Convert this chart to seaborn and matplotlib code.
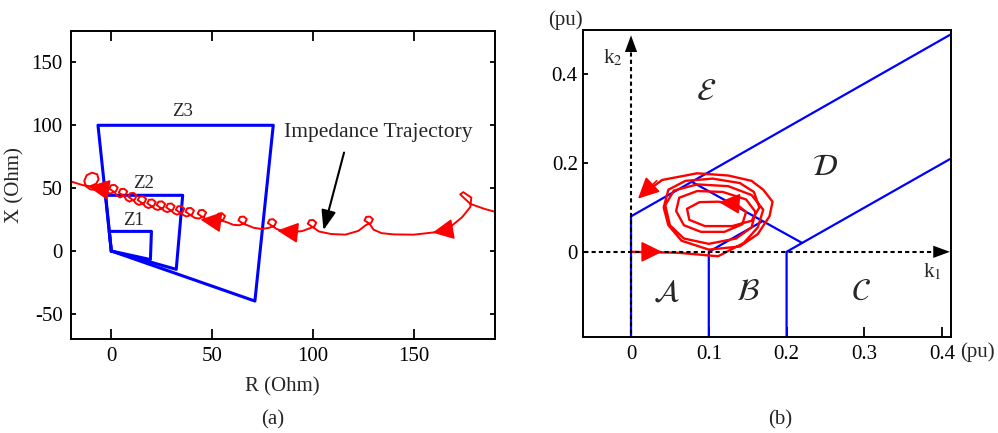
import numpy as np
import pandas as pd
import matplotlib
matplotlib.use("Agg")
import matplotlib.pyplot as plt
import seaborn as sns

# ---- panel (a): distance relay zones (R, X in Ohm) ----
z1_r = [0, 19.4, 19.9, -1.0, 0]
z1_x = [0, -6.8, 15.6, 15.6, 0]
z2_r = [0, 32.2, 35.4, -2.8, 0]
z2_x = [0, -14.6, 44.3, 44.3, 0]
z3_r = [0, 71.2, 80.3, -6.6, 0]
z3_x = [0, -39.8, 100, 100, 0]

# impedance trajectory (right to left)
traj_a = [
    (193, 30.0), (185, 33.5), (178, 37.5), (173, 45.0), (174.5, 46.8), (178.5, 42.5),
    (178, 35.0), (174, 27.0), (168, 19.0), (160, 14.8), (150, 13.0), (140, 13.2), (134, 14.2),
    (130, 17.0), (128.2, 21.4), (125.5, 24.4), (126.4, 27.1), (128.2, 27.4), (129.7, 25.3),
    (128.8, 22.3), (126.1, 20.5), (122.5, 16.0), (116, 13.0), (109, 13.5), (103, 15.5),
    (100.1, 18.7), (97.4, 21.7), (98.3, 24.4), (100.1, 24.7), (101.6, 22.6), (100.7, 19.6),
    (98.0, 17.8), (94.5, 15.8), (90, 15.2), (85, 15.8), (82, 17.5),
    (80.3, 19.3), (77.6, 22.3), (78.5, 25.0), (80.3, 25.3), (81.8, 23.2), (80.9, 20.2),
    (78.2, 18.4), (74.5, 17.5), (70.5, 18.5), (67.5, 20.5),
    (65.7, 21.4), (63.0, 24.4), (63.9, 27.1), (65.7, 27.4), (67.2, 25.3), (66.3, 22.3),
    (63.6, 20.5), (60.5, 20.8), (57.5, 22.8),
    (54.9, 24.0), (52.2, 27.0), (53.1, 29.7), (54.9, 30.0), (56.4, 27.9), (55.5, 24.9),
    (52.8, 23.1), (49.5, 23.5), (47.0, 25.0),
    (45.5, 26.7), (42.8, 29.7), (43.7, 32.4), (45.5, 32.7), (47.0, 30.6), (46.1, 27.6),
    (43.4, 25.8), (41.3, 26.4),
    (39.5, 28.3), (36.8, 31.3), (37.7, 34.0), (39.5, 34.3), (41.0, 32.2), (40.1, 29.2),
    (37.4, 27.4), (35.9, 28.4),
    (34.7, 29.8), (32.0, 32.8), (32.9, 35.5), (34.7, 35.8), (36.2, 33.7), (35.3, 30.7),
    (32.6, 28.9), (31.1, 30.0),
    (29.9, 31.8), (27.2, 34.8), (28.1, 37.5), (29.9, 37.8), (31.4, 35.7), (30.5, 32.7),
    (27.8, 30.9), (26.3, 31.8),
    (25.2, 33.5), (22.5, 36.5), (23.4, 39.2), (25.2, 39.5), (26.7, 37.4), (25.8, 34.4),
    (23.1, 32.6), (21.6, 33.4),
    (20.5, 35.0), (17.8, 38.0), (18.7, 40.7), (20.5, 41.0), (22.0, 38.9), (21.1, 35.9),
    (18.4, 34.1), (16.9, 35.3),
    (15.8, 37.5), (13.1, 40.5), (14.0, 43.2), (15.8, 43.5), (17.3, 41.4), (16.4, 38.4),
    (13.7, 36.6), (12.2, 37.9),
    (11.1, 40.2), (8.4, 43.2), (9.3, 45.9), (11.1, 46.2), (12.6, 44.1), (11.7, 41.1),
    (9.0, 39.3), (7.5, 40.6),
    (6.4, 43.5), (3.7, 46.5), (4.6, 49.2), (6.4, 49.5), (7.9, 47.4), (7.0, 44.4),
    (4.3, 42.6), (2.8, 44.0),
    (1.7, 46.6), (-1.0, 49.6), (-0.1, 52.3), (1.7, 52.6), (3.2, 50.5), (2.3, 47.5),
    (-0.4, 45.7), (-3.5, 47.0), (-7.0, 48.5),
    (-10.4, 49.0), (-12.6, 51.5), (-13.4, 55.7), (-12.2, 60.3), (-9.6, 62.3),
    (-7.0, 61.0), (-6.3, 57.1), (-7.5, 53.5), (-10.5, 51.5), (-14.0, 52.3), (-17.0, 53.8), (-21.0, 55.8),
]
# red arrowheads on the trajectory: (tail, tip)
arrows_a = [((-4.0, 49.3), (-11.3, 51.2)), ((51.0, 23.6), (44.2, 25.0)),
            ((88.5, 15.2), (82.3, 16.3)), ((166.0, 16.5), (159.3, 14.6))]

# ---- panel (b): k1-k2 plane (pu) ----
bnd_ae = ([0, 0, 0.411], [-0.2, 0.08, 0.49])
bnd_ab = ([0.1, 0.1, 0.168], [-0.2, 0.0, 0.068])
bnd_bd = ([0.078, 0.22], [0.158, 0.02])
bnd_cd = ([0.2, 0.2, 0.22, 0.411], [-0.2, 0.0, 0.02, 0.21])

traj_b = [
    (0.0, 0.0), (0.06, -0.002), (0.112, -0.01),
    (0.145, 0.02), (0.163, 0.055), (0.17, 0.095), (0.155, 0.128), (0.125, 0.148), (0.085, 0.152),
    (0.055, 0.138), (0.044, 0.105), (0.05, 0.06), (0.068, 0.03), (0.1, 0.018),
    (0.135, 0.03), (0.155, 0.055), (0.16, 0.09), (0.148, 0.118), (0.118, 0.135), (0.085, 0.137),
    (0.062, 0.122), (0.058, 0.092), (0.068, 0.06), (0.09, 0.045), (0.12, 0.045),
    (0.143, 0.062), (0.148, 0.09), (0.135, 0.108), (0.112, 0.113), (0.088, 0.112), (0.072, 0.097),
    (0.075, 0.072), (0.095, 0.058), (0.13, 0.058),
    (0.155, 0.07), (0.165, 0.1), (0.158, 0.135), (0.14, 0.155), (0.105, 0.165), (0.07, 0.16),
    (0.048, 0.14), (0.042, 0.1), (0.048, 0.06), (0.065, 0.025), (0.1, 0.005), (0.14, 0.012),
    (0.163, 0.04), (0.178, 0.08), (0.182, 0.113), (0.17, 0.14), (0.155, 0.16), (0.125, 0.172),
    (0.085, 0.177), (0.04, 0.162), (0.012, 0.125),
]
arrows_b = [((0.012, 0.0), (0.04, 0.0)), ((0.135, 0.109), (0.113, 0.112)),
            ((0.033, 0.16), (0.009, 0.12))]

regions = ["$\\mathcal{A}$", "$\\mathcal{B}$", "$\\mathcal{C}$", "$\\mathcal{D}$", "$\\mathcal{E}$"]
region_k1 = [0.045, 0.15, 0.296, 0.249, 0.097]
region_k2 = [-0.092, -0.092, -0.092, 0.19, 0.36]

sns.set_theme(style="ticks")
plt.rcParams["font.family"] = ["Liberation Serif", "DejaVu Serif"]
plt.rcParams["mathtext.fontset"] = "stix"
plt.rcParams["axes.unicode_minus"] = False

fig = plt.figure(figsize=(9.98, 4.33), dpi=100)
ax1 = fig.add_axes([0.0711, 0.2171, 0.4244, 0.7113])
ax2 = fig.add_axes([0.5845, 0.2217, 0.3681, 0.7090])

blue = "#0000ff"
red = "#ff0000"

# ---- (a) ----
for zr, zx in [(z1_r, z1_x), (z2_r, z2_x), (z3_r, z3_x)]:
    sns.lineplot(x=zr, y=zx, sort=False, estimator=None, color=blue, lw=2.2, ax=ax1)
dfa = pd.DataFrame(traj_a, columns=["R", "X"])
sns.lineplot(data=dfa, x="R", y="X", sort=False, estimator=None, color=red, lw=1.4, ax=ax1)
for tail, tip in arrows_a:
    ax1.annotate("", xy=tip, xytext=tail,
                 arrowprops=dict(arrowstyle="-|>,head_length=0.65,head_width=0.32",
                                 mutation_scale=20, color=red, lw=1.2,
                                 shrinkA=0, shrinkB=0))
ax1.text(35.1, 110.9, "Z3", ha="center", va="center", fontsize=13.5)
ax1.text(16.1, 53.9, "Z2", ha="center", va="center", fontsize=13.5)
ax1.text(10.8, 23.9, "Z1", ha="center", va="center", fontsize=13.5)
ax1.annotate("", xy=(105.2, 16.5), xytext=(115.4, 78.3),
             arrowprops=dict(arrowstyle="-|>,head_length=0.6,head_width=0.22",
                             mutation_scale=20, color="black", lw=1.5,
                             shrinkA=0, shrinkB=0))
ax1.text(85.4, 94.2, "Impedance Trajectory", ha="left", va="center", fontsize=15.5)

ax1.set_xlim(-20, 190)
ax1.set_ylim(-70, 175)
ax1.set_xticks([0, 50, 100, 150])
ax1.set_yticks([-50, 0, 50, 100, 150])
ax1.set_xlabel("R (Ohm)", fontsize=15, labelpad=8)
ax1.set_ylabel("X (Ohm)", fontsize=15, labelpad=5)
ax1.tick_params(direction="in", top=True, right=True, labelsize=15, width=1.3, colors="black")
ax1.tick_params(axis="x", length=7, pad=6)
ax1.tick_params(axis="y", length=3.5, pad=6)

# ---- (b) ----
for bk1, bk2 in [bnd_ae, bnd_ab, bnd_bd, bnd_cd]:
    sns.lineplot(x=bk1, y=bk2, sort=False, estimator=None, color=blue, lw=1.6, ax=ax2)
ax2.plot([-0.07, 0.40], [0, 0], color="black", lw=1.5, ls=(0, (2, 1.5)), zorder=3)
ax2.plot([0, 0], [-0.2, 0.475], color="black", lw=1.5, ls=(0, (2, 1.5)), zorder=3)
ax2.annotate("", xy=(0.41, 0), xytext=(0.38, 0),
             arrowprops=dict(arrowstyle="-|>,head_length=0.6,head_width=0.22",
                             mutation_scale=20, color="black", lw=0, shrinkA=0, shrinkB=0))
ax2.annotate("", xy=(0, 0.488), xytext=(0, 0.45),
             arrowprops=dict(arrowstyle="-|>,head_length=0.6,head_width=0.22",
                             mutation_scale=20, color="black", lw=0, shrinkA=0, shrinkB=0))
dfb = pd.DataFrame(traj_b, columns=["k1", "k2"])
sns.lineplot(data=dfb, x="k1", y="k2", sort=False, estimator=None, color=red, lw=1.7, ax=ax2)
for tail, tip in arrows_b:
    ax2.annotate("", xy=tip, xytext=tail,
                 arrowprops=dict(arrowstyle="-|>,head_length=0.65,head_width=0.32",
                                 mutation_scale=20, color=red, lw=1.2,
                                 shrinkA=0, shrinkB=0))
for lab, k1, k2 in zip(regions, region_k1, region_k2):
    ax2.text(k1, k2, lab, ha="center", va="center", fontsize=22)
ax2.text(-0.023, 0.436, "k$_2$", ha="center", va="center", fontsize=15)
ax2.text(0.387, -0.046, "k$_1$", ha="center", va="center", fontsize=15)

ax2.set_xlim(-0.0613, 0.411)
ax2.set_ylim(-0.192, 0.5)
ax2.set_xticks([0, 0.1, 0.2, 0.3, 0.4])
ax2.set_xticklabels(["0", "0.1", "0.2", "0.3", "0.4"])
ax2.set_yticks([0, 0.2, 0.4])
ax2.set_yticklabels(["0", "0.2", "0.4"])
ax2.set_xlabel("")
ax2.set_ylabel("")
ax2.tick_params(direction="in", top=False, right=False, labelsize=15, width=1.3, colors="black")
ax2.tick_params(axis="x", length=7, pad=6)
ax2.tick_params(axis="y", length=3.5, pad=4)

for ax in (ax1, ax2):
    for s in ax.spines.values():
        s.set_linewidth(1.4)
        s.set_color("black")
        s.set_visible(True)

fig.text(565 / 998, 1 - 20 / 433, "(pu)", ha="center", va="center", fontsize=15)
fig.text(977 / 998, 1 - 352 / 433, "(pu)", ha="center", va="center", fontsize=15)
fig.text(273 / 998, 1 - 420 / 433, "(a)", ha="center", va="center", fontsize=15)
fig.text(780 / 998, 1 - 420 / 433, "(b)", ha="center", va="center", fontsize=15)

fig.savefig("out.png", dpi=100)
